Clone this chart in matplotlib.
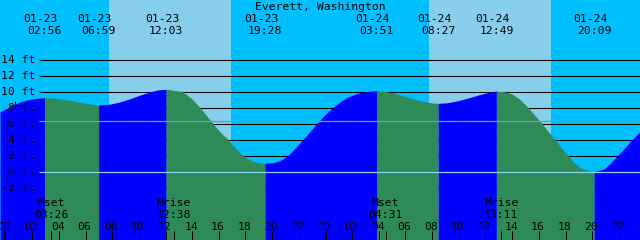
import numpy as np
import matplotlib.pyplot as plt

# ==========================================
# DATA
# ==========================================
TITLE = "Everett, Washington"

EVENT_DAYS = [0, 0, 0, 0, 1, 1, 1, 1]
EVENT_DATES = ["01-23", "01-23", "01-23", "01-23", "01-24", "01-24", "01-24", "01-24"]
EVENT_TIMES = ["02:56", "06:59", "12:03", "19:28", "03:51", "08:27", "12:49", "20:09"]
EVENT_FT = [9.23, 8.31, 10.27, 1.02, 10.10, 8.52, 10.06, 0.0]

MOON_DAYS = [0, 0, 1, 1]
MOON_LABELS = ["Mset", "Mrise", "Mset", "Mrise"]
MOON_TIMES = ["03:26", "12:38", "04:31", "13:11"]

SUN_DAYS = [0, 1]
SUNRISE = ["07:46", "07:46"]
SUNSET = ["16:55", "16:55"]

# tide height (ft) at hours after 01-23 00:00
CURVE_H = [-0.41, 0.34, 1.09, 1.84, 2.59,
           3.71, 4.46, 5.21, 5.96, 6.49,
           7.84, 8.59, 9.34, 10.09, 10.84, 11.44,
           12.64, 13.24, 13.91, 14.59, 15.04, 15.56, 16.09, 16.69, 17.21, 17.81,
           18.34, 18.86,
           20.06, 20.59, 21.19, 21.71, 22.31, 22.84, 23.36, 23.96, 24.56, 25.09,
           25.61, 26.21, 26.74, 27.34,
           28.46, 29.06, 29.74, 30.34, 30.94, 31.61, 32.06,
           33.04, 33.56, 34.09, 34.61, 35.14, 35.59, 36.11,
           37.46, 37.99, 38.59, 39.19, 39.71, 40.24, 40.69, 41.21, 41.66, 42.19,
           42.64, 43.09, 43.54, 43.99,
           44.89, 45.34, 46.09, 46.84, 47.59]
CURVE_FT = [7.48, 8.10, 8.69, 9.02, 9.19,
            9.15, 9.00, 8.78, 8.55, 8.40,
            8.42, 8.70, 9.10, 9.55, 9.95, 10.20,
            10.15, 10.00, 9.20, 8.00, 7.05, 6.00, 4.95, 4.00, 2.95, 2.00,
            1.45, 1.12,
            1.10, 1.35, 2.00, 2.90, 4.00, 5.00, 6.00, 7.10, 8.00, 8.70,
            9.25, 9.65, 9.90, 10.05,
            10.02, 9.82, 9.50, 9.20, 8.90, 8.66, 8.56,
            8.58, 8.72, 8.92, 9.15, 9.40, 9.62, 9.85,
            9.95, 9.70, 9.00, 8.00, 7.00, 6.00, 5.00, 4.00, 3.00, 2.00,
            1.10, 0.50, 0.20, 0.05,
            0.30, 1.00, 2.30, 3.70, 5.00]

DEPTH_TICKS = [-2, 0, 2, 4, 6, 8, 10, 12, 14]
MSL_FT = 6.375
HOUR_TICKS = list(range(0, 50, 2))

# ==========================================
# GEOMETRY / COLOURS
# ==========================================
W, H = 640, 240
PX_PER_H = W / 48.0
X0 = 5.5          # pixel of 01-23 00:00
Y0 = 171.5        # pixel row of 0 ft
PX_PER_FT = 8.0

NIGHT = "#00BFFF"
DAY = "#87CEEB"
RISE = "#0000FF"
FALL = "#2E8B57"
MSL_C = "#5FA8A0"
DATUM_C = "#90D0F0"
FONT = "DejaVu Sans Mono"
FS = 8.2


def hx(px):
    return (px - X0) / PX_PER_H


def fy(py):
    return (Y0 - py) / PX_PER_FT


def hours(day, hhmm):
    hh, mm = hhmm.split(":")
    return day * 24 + int(hh) + int(mm) / 60.0


XMIN, XMAX = hx(0), hx(W)
YMIN, YMAX = fy(H), fy(0)

fig = plt.figure(figsize=(6.4, 2.4), dpi=100)
ax = fig.add_axes([0, 0, 1, 1])
ax.set_xlim(XMIN, XMAX)
ax.set_ylim(YMIN, YMAX)
ax.set_facecolor(NIGHT)
ax.set_xticks([])
ax.set_yticks([])
for s in ax.spines.values():
    s.set_visible(False)

# day shading
for d, sr, ss in zip(SUN_DAYS, SUNRISE, SUNSET):
    ax.axvspan(hours(d, sr), hours(d, ss), color=DAY, lw=0, zorder=0)

# depth lines (behind water)
ax.hlines(DEPTH_TICKS, hx(39), XMAX, color="black", lw=0.75, zorder=1)

# ==========================================
# WATER
# ==========================================
ev_h = [hours(d, t) for d, t in zip(EVENT_DAYS, EVENT_TIMES)]
t_all = np.array(CURVE_H + ev_h)
f_all = np.array(CURVE_FT + EVENT_FT)
order = np.argsort(t_all)
t_all, f_all = t_all[order], f_all[order]

bounds = [t_all[0]] + ev_h + [t_all[-1]]
for a, b in zip(bounds[:-1], bounds[1:]):
    m = (t_all >= a) & (t_all <= b)
    ts, fs = t_all[m], f_all[m]
    col = RISE if fs[-1] > fs[0] else FALL
    ax.fill_between(ts, fs, YMIN, color=col, lw=0, zorder=2)

# datum and mean sea level lines
ax.hlines([0], hx(39), XMAX, color=DATUM_C, lw=0.9, zorder=3)
ax.hlines([MSL_FT], hx(39), XMAX, color=MSL_C, lw=0.9, zorder=3)

# "now" mark
ax.plot([hx(15)], [fy(104.7)], marker="+", color="black", ms=5.5, mew=0.8, zorder=5)

# ==========================================
# TEXT
# ==========================================
ax.text(hx(320), fy(10), TITLE, ha="center", va="baseline", family=FONT, fontsize=FS)

for t, dt, tm in zip(ev_h, EVENT_DATES, EVENT_TIMES):
    ax.text(t - 4 / PX_PER_H, fy(21.7), dt, ha="center", va="baseline", family=FONT, fontsize=FS)
    ax.text(t, fy(34), tm, ha="center", va="baseline", family=FONT, fontsize=FS)

for v in DEPTH_TICKS:
    ax.text(hx(35.5), v - 0.48, f"{v} ft", ha="right", va="baseline", family=FONT,
            fontsize=FS, zorder=6)

moon_h = [hours(d, t) for d, t in zip(MOON_DAYS, MOON_TIMES)]
for t, lab, tm in zip(moon_h, MOON_LABELS, MOON_TIMES):
    ax.text(t, fy(206), lab, ha="center", va="baseline", family=FONT, fontsize=FS, zorder=6)
    ax.text(t, fy(218.3), tm, ha="center", va="baseline", family=FONT, fontsize=FS, zorder=6)

for h in HOUR_TICKS:
    ax.text(h - 1 / PX_PER_H, fy(230), f"{h % 24:02d}", ha="center", va="baseline",
            family=FONT, fontsize=FS, zorder=6)
    lw = 1.5 if h % 24 == 0 else 0.75
    ax.vlines(h, YMIN, fy(231), color="black", lw=lw, zorder=6)

ax.vlines(moon_h, YMIN, fy(231), color="black", lw=0.75, zorder=6)

fig.savefig("out.png", dpi=100)
